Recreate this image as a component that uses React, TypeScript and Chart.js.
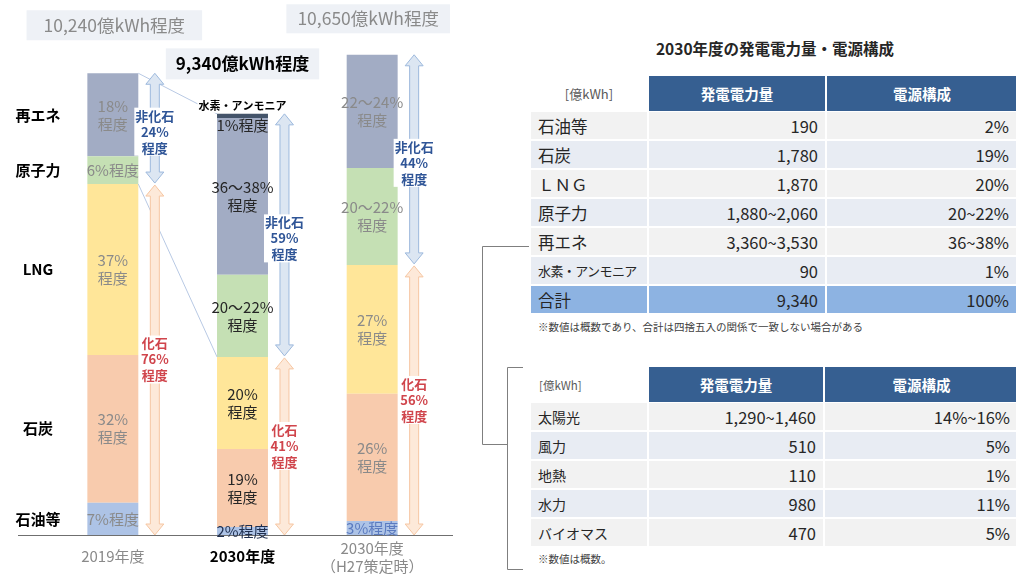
import React, { useEffect, useRef } from "react";
import { Chart, registerables } from "chart.js";

Chart.register(...registerables);

// ---------- Chart data (億kWh) ----------
const categories = ["2019年度", "2030年度", "2030年度（H27策定時）"];
const sources = ["石油等", "石炭", "LNG", "原子力", "再エネ", "水素・アンモニア"];
const oil = [717, 180, 310];
const coal = [3277, 1730, 2820];
const lng = [3789, 2040, 2860];
const nuclear = [614, 1820, 2150];
const renewable = [1843, 3480, 2510];
const hydrogen = [0, 90, 0];

const oilLabels = ["7%程度", "2%程度", "3%程度"];
const coalLabels = ["32%\n程度", "19%\n程度", "26%\n程度"];
const lngLabels = ["37%\n程度", "20%\n程度", "27%\n程度"];
const nuclearLabels = ["6%程度", "20～22%\n程度", "20～22%\n程度"];
const renewableLabels = ["18%\n程度", "36～38%\n程度", "22～24%\n程度"];
const hydrogenLabels = ["", "1%程度", ""];
const totalLabels = ["10,240億kWh程度", "9,340億kWh程度", "10,650億kWh程度"];
const nonFossilShares = ["24%", "59%", "44%"];
const fossilShares = ["76%", "41%", "56%"];

// ---------- Table data ----------
const mixRows = ["石油等", "石炭", "ＬＮＧ", "原子力", "再エネ", "水素・アンモニア", "合計"];
const mixAmounts = ["190", "1,780", "1,870", "1,880~2,060", "3,360~3,530", "90", "9,340"];
const mixShares = ["2%", "19%", "20%", "20~22%", "36~38%", "1%", "100%"];
const reRows = ["太陽光", "風力", "地熱", "水力", "バイオマス"];
const reAmounts = ["1,290~1,460", "510", "110", "980", "470"];
const reShares = ["14%~16%", "5%", "1%", "11%", "5%"];

const FONT = "'Noto Sans CJK JP', 'Noto Sans', sans-serif";
const segColors = ["#adc3e6", "#f8cbad", "#ffe699", "#c5e0b4", "#a2acc4", "#44546a"];
const segLabels = [oilLabels, coalLabels, lngLabels, nuclearLabels, renewableLabels, hydrogenLabels];
const seriesData = [oil, coal, lng, nuclear, renewable, hydrogen];

function drawDoubleArrow(ctx: CanvasRenderingContext2D, x: number, y1: number, y2: number, fill: string, stroke: string) {
  const hl = 11, hw = 9, sw = 4.5;
  ctx.beginPath();
  ctx.moveTo(x, y1);
  ctx.lineTo(x + hw, y1 + hl);
  ctx.lineTo(x + sw, y1 + hl);
  ctx.lineTo(x + sw, y2 - hl);
  ctx.lineTo(x + hw, y2 - hl);
  ctx.lineTo(x, y2);
  ctx.lineTo(x - hw, y2 - hl);
  ctx.lineTo(x - sw, y2 - hl);
  ctx.lineTo(x - sw, y1 + hl);
  ctx.lineTo(x - hw, y1 + hl);
  ctx.closePath();
  ctx.fillStyle = fill;
  ctx.fill();
  ctx.strokeStyle = stroke;
  ctx.lineWidth = 1;
  ctx.stroke();
}

function drawLines(ctx: CanvasRenderingContext2D, lines: string[], x: number, cy: number, lh: number, color: string, font: string, bg?: string) {
  ctx.font = font;
  ctx.textAlign = "center";
  ctx.textBaseline = "middle";
  const start = cy - ((lines.length - 1) * lh) / 2;
  if (bg) {
    let w = 0;
    lines.forEach((l) => (w = Math.max(w, ctx.measureText(l).width)));
    ctx.fillStyle = bg;
    ctx.fillRect(x - w / 2 - 1, start - lh / 2, w + 2, lh * lines.length);
  }
  ctx.fillStyle = color;
  lines.forEach((l, k) => ctx.fillText(l, x, start + k * lh));
}

const overlayPlugin = {
  id: "overlay",
  afterDatasetsDraw(chart: any) {
    const ctx: CanvasRenderingContext2D = chart.ctx;
    const ys = chart.scales.y;
    const y0 = ys.getPixelForValue(0);
    const n = categories.length;
    const totals: number[] = [];
    const fossils: number[] = [];
    for (let i = 0; i < n; i++) {
      totals.push(oil[i] + coal[i] + lng[i] + nuclear[i] + renewable[i] + hydrogen[i]);
      fossils.push(oil[i] + coal[i] + lng[i]);
    }
    const meta0 = chart.getDatasetMeta(0);
    const xs = meta0.data.map((e: any) => e.x);
    const half = meta0.data[0].width / 2;
    ctx.save();

    // baseline
    ctx.strokeStyle = "#6f6f6f";
    ctx.lineWidth = 1;
    ctx.beginPath();
    ctx.moveTo(18, Math.round(y0) + 0.5);
    ctx.lineTo(453, Math.round(y0) + 0.5);
    ctx.stroke();

    // connecting lines 2019 -> 2030
    ctx.strokeStyle = "#b8c9e4";
    ctx.beginPath();
    ctx.moveTo(xs[0] + half, ys.getPixelForValue(totals[0]));
    ctx.lineTo(xs[1] - half, ys.getPixelForValue(totals[1]));
    ctx.moveTo(xs[0] + half, ys.getPixelForValue(fossils[0]));
    ctx.lineTo(xs[1] - half, ys.getPixelForValue(fossils[1]));
    ctx.stroke();

    // segment labels
    for (let d = 0; d < seriesData.length; d++) {
      const meta = chart.getDatasetMeta(d);
      for (let i = 0; i < n; i++) {
        const txt = segLabels[d][i];
        if (!txt) continue;
        const el = meta.data[i];
        let cy = (el.y + el.base) / 2;
        if (d === 5) cy = el.base + 7;
        let color = i === 1 ? "#262626" : "#8a8a8a";
        if (d === 0 && i === 1) color = "#1f2f4f";
        if (d === 0 && i === 2) color = "#5b7bc0";
        drawLines(ctx, txt.split("\n"), el.x, cy, 18, color, `15px ${FONT}`);
      }
    }

    // left source labels (aligned to 2019 bar)
    for (let d = 0; d < 5; d++) {
      const el = chart.getDatasetMeta(d).data[0];
      drawLines(ctx, [sources[d]], 38, (el.y + el.base) / 2, 18, "#000", `bold 15px ${FONT}`);
    }

    // category labels
    drawLines(ctx, [categories[0]], xs[0], y0 + 21, 18, "#8a8a8a", `15px ${FONT}`);
    drawLines(ctx, [categories[1]], xs[1], y0 + 21, 18, "#000", `bold 15px ${FONT}`);
    drawLines(ctx, ["2030年度", "（H27策定時）"], xs[2], y0 + 22, 18, "#8a8a8a", `15px ${FONT}`);

    // arrows
    for (let i = 0; i < n; i++) {
      const ax = xs[i] + half + 16.5;
      const top = ys.getPixelForValue(totals[i]);
      const mid = ys.getPixelForValue(fossils[i]);
      drawDoubleArrow(ctx, ax, top, mid - 1, "#dce6f2", "#9db9dd");
      drawDoubleArrow(ctx, ax, mid + 1, y0, "#fde9d9", "#f6c6a2");
      drawLines(ctx, ["非化石", nonFossilShares[i], "程度"], ax, (top + mid) / 2 + 3, 16, "#2f5597", `bold 13px ${FONT}`, "#fff");
      drawLines(ctx, ["化石", fossilShares[i], "程度"], ax, (mid + y0) / 2, 16, "#d0454c", `bold 13px ${FONT}`, "#fff");
    }

    // hydrogen label
    drawLines(ctx, ["水素・アンモニア"], xs[1], ys.getPixelForValue(totals[1]) - 8, 14, "#000", `bold 11px ${FONT}`, "#fff");

    // total boxes
    const boxOff = [48, 50, 36];
    const boxH = [30, 31, 29];
    const padX = [17, 10, 11];
    for (let i = 0; i < n; i++) {
      const bold = i === 1;
      const font = bold ? `bold 17px ${FONT}` : `17.5px ${FONT}`;
      ctx.font = font;
      const w = ctx.measureText(totalLabels[i]).width + padX[i] * 2;
      const cy = ys.getPixelForValue(totals[i]) - boxOff[i];
      const cx = xs[i] + (i === 2 ? -4 : i === 0 ? 1.5 : 0);
      ctx.fillStyle = "#eef1f6";
      ctx.fillRect(cx - w / 2, cy - boxH[i] / 2, w, boxH[i]);
      drawLines(ctx, [totalLabels[i]], cx, cy, 18, bold ? "#000" : "#8a8a8a", font);
    }
    ctx.restore();
  },
};

function StackChart() {
  const ref = useRef<HTMLCanvasElement | null>(null);
  useEffect(() => {
    if (!ref.current) return;
    const chart = new Chart(ref.current, {
      type: "bar",
      data: {
        labels: categories,
        datasets: seriesData.map((arr, d) => ({
          label: sources[d],
          data: arr,
          backgroundColor: segColors[d],
          borderWidth: 0,
          categoryPercentage: 1,
          barPercentage: 0.393,
        })),
      },
      options: {
        responsive: false,
        animation: false,
        events: [],
        layout: { padding: { left: 48, right: 33, top: 39, bottom: 39 } },
        plugins: { legend: { display: false }, tooltip: { enabled: false } },
        scales: {
          x: { stacked: true, display: false },
          y: { stacked: true, display: false, min: 0, max: 11000 },
        },
      },
      plugins: [overlayPlugin],
    } as any);
    return () => chart.destroy();
  }, []);
  return (
    <canvas
      ref={ref}
      width={470}
      height={574}
      style={{ position: "absolute", left: 0, top: 0, width: 470, height: 574 }}
    />
  );
}

type TableProps = {
  top: number;
  rows: string[];
  amounts: string[];
  shares: string[];
  col2: number;
  col3: number;
  labelSize: number;
  unitStyle: React.CSSProperties;
  lastHighlight: boolean;
};

function MixTable({ top, rows, amounts, shares, col2, col3, labelSize, unitStyle, lastHighlight }: TableProps) {
  const left = 531;
  const c1w = 116;
  const headH = 35;
  const step = 29;
  const cell = (x: number, y: number, w: number, h: number, bg: string, content: React.ReactNode, style: React.CSSProperties, key: string) => (
    <div
      key={key}
      style={{
        position: "absolute",
        left: x,
        top: y,
        width: w,
        height: h,
        background: bg,
        display: "flex",
        alignItems: "center",
        boxSizing: "border-box",
        whiteSpace: "nowrap",
        overflow: "hidden",
        ...style,
      }}
    >
      {content}
    </div>
  );
  const items: React.ReactNode[] = [];
  items.push(cell(left, top, c1w, headH, "#fff", "[億kWh]", unitStyle, "h0"));
  items.push(
    cell(left + c1w + 2, top, col2, headH, "#365f91", "発電電力量", { justifyContent: "center", color: "#fff", fontWeight: 700, fontSize: 14.5 }, "h1")
  );
  items.push(
    cell(left + c1w + 4 + col2, top, col3, headH, "#365f91", "電源構成", { justifyContent: "center", color: "#fff", fontWeight: 700, fontSize: 14.5 }, "h2")
  );
  rows.forEach((r, i) => {
    const y = top + headH + 1 + i * step;
    const hl = lastHighlight && i === rows.length - 1;
    const bg = hl ? "#8db3e2" : i % 2 === 0 ? "#f2f2f2" : "#e8ecf3";
    const h = step - 2;
    const long = r.length > 5;
    items.push(
      cell(
        left,
        y,
        c1w,
        h,
        bg,
        r,
        { paddingLeft: 7, fontSize: long ? 13 : labelSize, letterSpacing: long ? -0.6 : 0, color: "#262626" },
        `l${i}`
      )
    );
    items.push(cell(left + c1w + 2, y, col2, h, bg, amounts[i], { justifyContent: "flex-end", paddingRight: 7, fontSize: 16.5, color: "#262626" }, `a${i}`));
    items.push(cell(left + c1w + 4 + col2, y, col3, h, bg, shares[i], { justifyContent: "flex-end", paddingRight: 8, fontSize: 16.5, color: "#262626" }, `s${i}`));
  });
  return <>{items}</>;
}

export default function App() {
  return (
    <div
      style={{
        position: "absolute",
        left: 0,
        top: 0,
        width: 1016,
        height: 574,
        background: "#fff",
        overflow: "hidden",
        fontFamily: FONT,
      }}
    >
      <StackChart />
      <div
        style={{
          position: "absolute",
          left: 600,
          top: 36,
          width: 350,
          textAlign: "center",
          fontWeight: 700,
          fontSize: 15.5,
          color: "#262626",
          lineHeight: "24px",
        }}
      >
        2030年度の発電電力量・電源構成
      </div>
      <MixTable
        top={76}
        rows={mixRows}
        amounts={mixAmounts}
        shares={mixShares}
        col2={176}
        col3={190}
        labelSize={16.5}
        unitStyle={{ justifyContent: "center", fontSize: 13, color: "#595959" }}
        lastHighlight={true}
      />
      <div style={{ position: "absolute", left: 538, top: 319, fontSize: 10.5, color: "#404040", lineHeight: "16px" }}>
        ※数値は概数であり、合計は四捨五入の関係で一致しない場合がある
      </div>
      <MixTable
        top={367}
        rows={reRows}
        amounts={reAmounts}
        shares={reShares}
        col2={174}
        col3={193}
        labelSize={14}
        unitStyle={{ paddingLeft: 8, fontSize: 11.5, color: "#595959" }}
        lastHighlight={false}
      />
      <div style={{ position: "absolute", left: 538, top: 551, fontSize: 10.5, color: "#404040", lineHeight: "16px" }}>
        ※数値は概数。
      </div>
      <svg width={1016} height={574} style={{ position: "absolute", left: 0, top: 0, pointerEvents: "none" }}>
        <polyline points="529,246.5 482.5,246.5 482.5,444.5 507.5,444.5" fill="none" stroke="#7f7f7f" strokeWidth={1} />
        <polyline points="523,367.5 507.5,367.5 507.5,569.5 523,569.5" fill="none" stroke="#7f7f7f" strokeWidth={1} />
      </svg>
    </div>
  );
}
